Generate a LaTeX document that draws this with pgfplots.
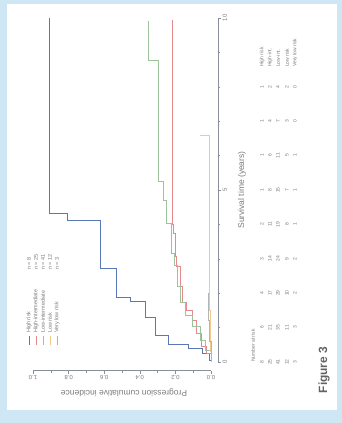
\documentclass[border=0pt]{standalone}
\usepackage{pgfplots}
\pgfplotsset{compat=1.18}
\usepackage{fontspec}
\setmainfont{Liberation Sans}
\definecolor{bgblue}{HTML}{CFE6F4}
\definecolor{cblue}{HTML}{5A78B8}
\definecolor{cred}{HTML}{E48A8A}
\definecolor{cgreen}{HTML}{9CC49C}
\definecolor{corange}{HTML}{F2C98E}
\definecolor{cgray}{HTML}{B4B4B4}
\definecolor{txt}{HTML}{7C7C7C}
\definecolor{axgray}{HTML}{8A8E9A}
\begin{document}
\begin{tikzpicture}[x=1bp,y=1bp]
\fill[bgblue] (0,0) rectangle (342,423);
\fill[white] (7,13) rectangle (337,419);
\begin{axis}[
  at={(122bp,233bp)}, anchor=center,
  scale only axis, width=192.2bp, height=361.2bp,
  x dir=reverse,
  xmin=-0.04, xmax=1.04, ymin=-0.25, ymax=10.25,
  axis line style={draw=none},
  clip=false,
  tick align=outside,
  major tick length=3bp, minor tick length=2.2bp,
  tick style={draw=axgray, line width=0.5bp},
  xtick={0,0.2,0.4,0.6,0.8,1},
  minor xtick={0.1,0.3,0.5,0.7,0.9},
  xticklabels={0.0,0.2,0.4,0.6,0.8,1.0},
  ytick={0,5,10},
  minor ytick={1,2,3,4,6,7,8,9},
  yticklabels={0,5,10},
  xtick pos=left, ytick pos=right,
  xticklabel style={rotate=180, anchor=south, font=\fontsize{6}{7}\selectfont, text=txt, inner sep=1.5bp},
  yticklabel style={rotate=90, anchor=north, font=\fontsize{6}{7}\selectfont, text=txt, inner sep=1.5bp},
]
\draw[axgray, line width=0.5bp] (axis cs:0,-0.25) -- (axis cs:1,-0.25);
\draw[axgray, line width=0.5bp] (axis cs:-0.04,0) -- (axis cs:-0.04,10);
% blue
\addplot[cblue, line width=0.6bp] coordinates {(0,0) (0,0.05) (0.01,0.05) (0.01,0.26) (0.05,0.26) (0.05,0.40) (0.13,0.40) (0.13,0.50) (0.24,0.50) (0.24,0.78) (0.315,0.78) (0.315,1.31) (0.37,1.31) (0.37,1.75) (0.455,1.75) (0.455,1.87) (0.53,1.87) (0.53,2.73) (0.62,2.73) (0.62,4.13) (0.81,4.13) (0.81,4.33) (0.91,4.33) (0.91,10)};
% red
\addplot[cred, line width=0.5bp] coordinates {(0,0) (0,0.25) (0.024,0.25) (0.024,0.45) (0.052,0.45) (0.052,0.83) (0.08,0.83) (0.08,1.22) (0.108,1.22) (0.108,1.51) (0.137,1.51) (0.137,1.75) (0.159,1.75) (0.159,2.19) (0.174,2.19) (0.174,2.77) (0.193,2.77) (0.193,3.06) (0.202,3.06) (0.202,3.74) (0.212,3.74) (0.212,4.0) (0.22,4.0) (0.22,9.95)};
% green
\addplot[cgreen, line width=0.5bp] coordinates {(0,0) (0,0.35) (0.034,0.35) (0.034,0.64) (0.062,0.64) (0.062,1.03) (0.108,1.03) (0.108,1.37) (0.146,1.37) (0.146,1.75) (0.174,1.75) (0.174,2.2) (0.19,2.2) (0.19,2.8) (0.205,2.8) (0.205,3.16) (0.225,3.16) (0.225,4.03) (0.249,4.03) (0.249,4.71) (0.268,4.71) (0.268,5.24) (0.296,5.24) (0.296,8.78) (0.352,8.78) (0.352,9.9)};
% orange
\addplot[corange, line width=0.6bp] coordinates {(0,0) (0,0.3) (0.006,0.3) (0.006,1.5) (0.012,1.5) (0.012,6.6) (0.06,6.6)};
% gray
\addplot[cgray, line width=0.5bp] coordinates {(0,0) (0,0.6) (0.01,0.6) (0.01,1.2) (0.018,1.2) (0.018,2.0)};
\end{axis}
% axis titles
\node[rotate=180, text=txt, font=\fontsize{8.5}{10}\selectfont] at (124,30) {Progression cumulative incidence};
\node[rotate=90, text=txt, font=\fontsize{8.5}{10}\selectfont] at (242,233) {Survival time (years)};
\node[rotate=90, text=txt!80!black, font=\bfseries\fontsize{12}{14}\selectfont] at (324,53) {Figure 3};
% legend
\begin{scope}[font=\fontsize{5.5}{6.5}\selectfont, text=txt]
\draw[cblue, line width=0.6bp] (29,78) -- (29,87);
\draw[cred, line width=0.6bp] (36,78) -- (36,87);
\draw[cgreen, line width=0.6bp] (43,78) -- (43,87);
\draw[corange, line width=0.6bp] (50,78) -- (50,87);
\draw[cgray, line width=0.6bp] (57,78) -- (57,87);
\node[rotate=90, anchor=west, inner sep=0] at (29,90) {High risk};
\node[rotate=90, anchor=west, inner sep=0] at (36,90) {High-intermediate};
\node[rotate=90, anchor=west, inner sep=0] at (43,90) {Low-intermediate};
\node[rotate=90, anchor=west, inner sep=0] at (50,90) {Low risk};
\node[rotate=90, anchor=west, inner sep=0] at (57,90) {Very low risk};
\node[rotate=90, anchor=west, inner sep=0] at (29,153) {n = 8};
\node[rotate=90, anchor=west, inner sep=0] at (36,153) {n = 25};
\node[rotate=90, anchor=west, inner sep=0] at (43,153) {n = 41};
\node[rotate=90, anchor=west, inner sep=0] at (50,153) {n = 12};
\node[rotate=90, anchor=west, inner sep=0] at (57,153) {n = 3};
\end{scope}
% number at risk
\begin{scope}[font=\fontsize{5}{6}\selectfont, text=txt]
\node[rotate=90, anchor=west, inner sep=0] at (253,61) {Number at risk};
\foreach \v [count=\i from 0] in {8,6,4,3,2,1,1,1,1} \node[rotate=90] at (262,61+34.4*\i) {\v};
\foreach \v [count=\i from 0] in {25,21,17,14,11,8,6,4,2} \node[rotate=90] at (270,61+34.4*\i) {\v};
\foreach \v [count=\i from 0] in {41,35,29,24,19,15,11,7,4} \node[rotate=90] at (278,61+34.4*\i) {\v};
\foreach \v [count=\i from 0] in {12,11,10,9,8,7,5,3,2} \node[rotate=90] at (287,61+34.4*\i) {\v};
\foreach \v [count=\i from 0] in {3,3,2,2,1,1,1,0,0} \node[rotate=90] at (295,61+34.4*\i) {\v};
\node[rotate=90, anchor=west, inner sep=0] at (262,356) {High risk};
\node[rotate=90, anchor=west, inner sep=0] at (270,356) {High-int.};
\node[rotate=90, anchor=west, inner sep=0] at (278,356) {Low-int.};
\node[rotate=90, anchor=west, inner sep=0] at (287,356) {Low risk};
\node[rotate=90, anchor=west, inner sep=0] at (295,356) {Very low risk};
\end{scope}
\end{tikzpicture}
\end{document}
